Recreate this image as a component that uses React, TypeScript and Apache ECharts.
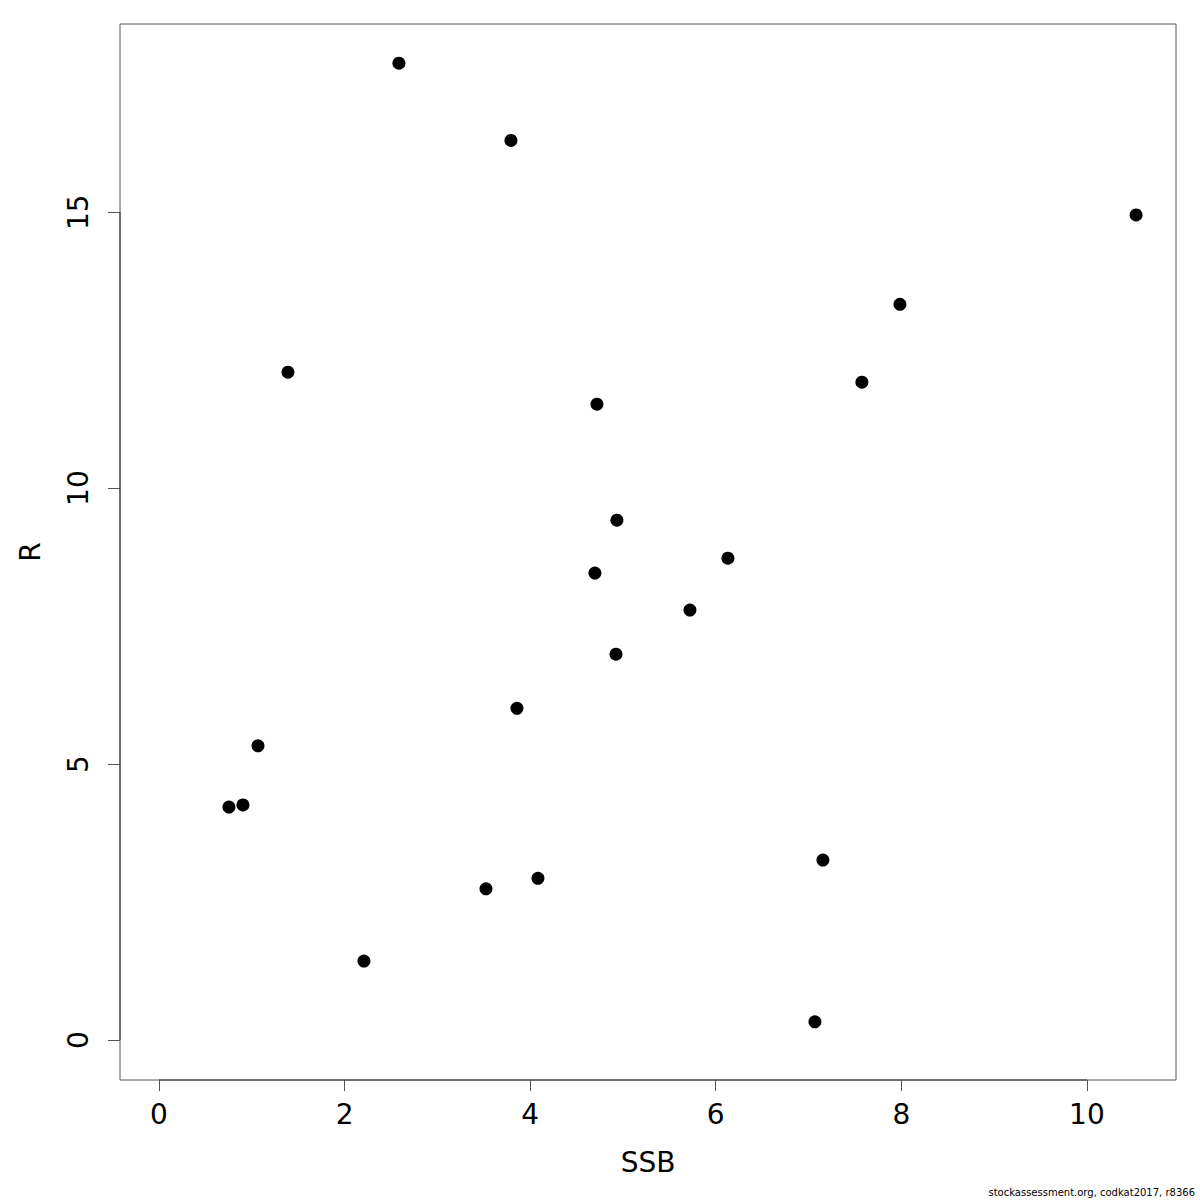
import React, { useEffect, useRef } from "react";
import * as echarts from "echarts";

const ssb = [2.586, 3.793, 10.53, 7.985, 7.575, 1.39, 4.72, 4.935, 6.131, 4.698, 5.722, 4.925, 3.858, 1.067, 0.754, 0.905, 7.155, 4.084, 3.524, 2.209, 7.069];
const rec = [17.70, 16.30, 14.95, 13.33, 11.92, 12.10, 11.52, 9.42, 8.73, 8.46, 7.79, 6.99, 6.01, 5.33, 4.22, 4.26, 3.26, 2.93, 2.74, 1.43, 0.33];
const xTicks = [0, 2, 4, 6, 8, 10];
const yTicks = [0, 5, 10, 15];
const xTitle = "SSB";
const yTitle = "R";
const footer = "stockassessment.org, codkat2017, r8366";

const FONT = "DejaVu Sans";

export default function App() {
  const ref = useRef<HTMLDivElement>(null);
  useEffect(() => {
    if (!ref.current) return;
    const chart = echarts.init(ref.current, undefined, { renderer: "svg" });
    chart.setOption({
      animation: false,
      backgroundColor: "#ffffff",
      textStyle: { fontFamily: FONT },
      grid: {
        left: 120,
        top: 24,
        width: 1056,
        height: 1056,
        show: true,
        borderColor: "#555555",
        borderWidth: 1,
        backgroundColor: "transparent",
      },
      xAxis: {
        type: "value",
        min: -0.42,
        max: 10.96,
        splitLine: { show: false },
        axisLine: { show: false, onZero: false },
        axisTick: {
          show: true,
          customValues: xTicks,
          length: 11,
          lineStyle: { color: "#555555", width: 1 },
        },
        axisLabel: {
          show: true,
          customValues: xTicks,
          fontSize: 28,
          color: "#000000",
          fontFamily: FONT,
          margin: 20,
        },
        name: xTitle,
        nameLocation: "middle",
        nameGap: 68,
        nameTextStyle: { fontSize: 28, color: "#000000", fontFamily: FONT },
      },
      yAxis: {
        type: "value",
        min: -0.725,
        max: 18.41,
        splitLine: { show: false },
        axisLine: { show: false, onZero: false },
        axisTick: {
          show: true,
          customValues: yTicks,
          length: 12,
          lineStyle: { color: "#555555", width: 1 },
        },
        axisLabel: {
          show: true,
          customValues: yTicks,
          fontSize: 28,
          color: "#000000",
          fontFamily: FONT,
          rotate: 90,
          margin: 28,
        },
        name: yTitle,
        nameLocation: "middle",
        nameGap: 76,
        nameRotate: 90,
        nameTextStyle: { fontSize: 28, color: "#000000", fontFamily: FONT },
      },
      graphic: [
        {
          type: "line",
          shape: { x1: 159, y1: 1080, x2: 1087, y2: 1080 },
          style: { stroke: "#333333", lineWidth: 1 },
          silent: true,
          z: 100,
        },
        {
          type: "line",
          shape: { x1: 120, y1: 212, x2: 120, y2: 1040 },
          style: { stroke: "#333333", lineWidth: 1 },
          silent: true,
          z: 100,
        },
        {
          type: "text",
          right: 5,
          bottom: 3,
          style: { text: footer, fontSize: 10, fill: "#000000", fontFamily: FONT },
        },
      ],
      series: [
        {
          type: "scatter",
          data: ssb.map((x, i) => [x, rec[i]]),
          symbol: "circle",
          symbolSize: 13,
          itemStyle: { color: "#000000", opacity: 1 },
          silent: true,
        },
      ],
    });
    return () => chart.dispose();
  }, []);
  return (
    <div
      ref={ref}
      style={{ position: "absolute", left: 0, top: 0, width: 1200, height: 1200 }}
    />
  );
}
